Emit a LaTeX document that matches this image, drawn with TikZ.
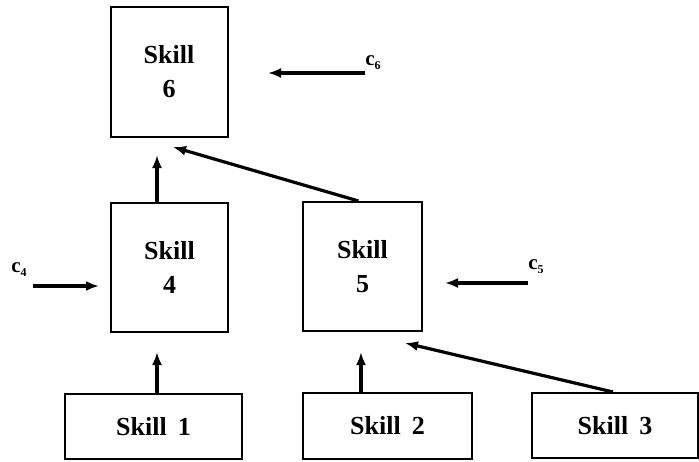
\documentclass[tikz,border=0pt]{standalone}
\usepackage{fontspec}
\setmainfont{Liberation Serif}
\usetikzlibrary{arrows.meta}
\begin{document}
\begin{tikzpicture}[x=1pt,y=-1pt,
  skillbox/.style={draw,line width=2pt,inner sep=0pt,align=center,
    font=\fontsize{26}{34}\selectfont\bfseries},
  conn/.style={line width=3.2pt,-{Latex[length=13pt,width=10pt]}},
  clabel/.style={inner sep=0pt,font=\fontsize{21}{22}\selectfont\bfseries}]
\useasboundingbox (0,0) rectangle (699,461);
% boxes
\node[skillbox,minimum width=117pt,minimum height=130pt] (s6) at (169,72) {Skill\\6};
\node[skillbox,minimum width=117pt,minimum height=129pt] (s4) at (169.5,267.5) {Skill\\4};
\node[skillbox,minimum width=119pt,minimum height=129pt] (s5) at (362.5,266.5) {Skill\\5};
\node[skillbox,minimum width=177pt,minimum height=65pt] (s1) at (153.5,426.5) {Skill\hspace{11pt}1};
\node[skillbox,minimum width=169pt,minimum height=66pt] (s2) at (387.5,426) {Skill\hspace{11pt}2};
\node[skillbox,minimum width=166pt,minimum height=65pt] (s3) at (615,425.5) {Skill\hspace{11pt}3};
% free arrow ends
\coordinate (t1) at (157,352);
\coordinate (t2) at (361,352);
\coordinate (t3) at (405,343);
\coordinate (t4) at (157,155);
\coordinate (t5) at (173,147);
% connectors
\draw[conn] (t1 |- s1.north) -- (t1);
\draw[conn] (t2 |- s2.north) -- (t2);
\draw[conn] ([xshift=-2pt]s3.north) -- (t3);
\draw[conn] (t4 |- s4.north) -- (t4);
\draw[conn] ([xshift=-4pt]s5.north) -- (t5);
% external inputs
\node[clabel] (c4) at (19,270) {c\raisebox{-4pt}{\fontsize{12}{12}\selectfont 4}};
\node[clabel] (c5) at (536,267) {c\raisebox{-4pt}{\fontsize{12}{12}\selectfont 5}};
\node[clabel] (c6) at (373,63) {c\raisebox{-4pt}{\fontsize{12}{12}\selectfont 6}};
\coordinate (c4s) at (33,286);
\coordinate (c4e) at (99,286);
\coordinate (c5s) at (528,283);
\coordinate (c5e) at (445,283);
\coordinate (c6s) at (365,73);
\coordinate (c6e) at (268,73);
\draw[conn] (c4s) -- (c4e);
\draw[conn] (c5s) -- (c5e);
\draw[conn] (c6s) -- (c6e);
\end{tikzpicture}
\end{document}
